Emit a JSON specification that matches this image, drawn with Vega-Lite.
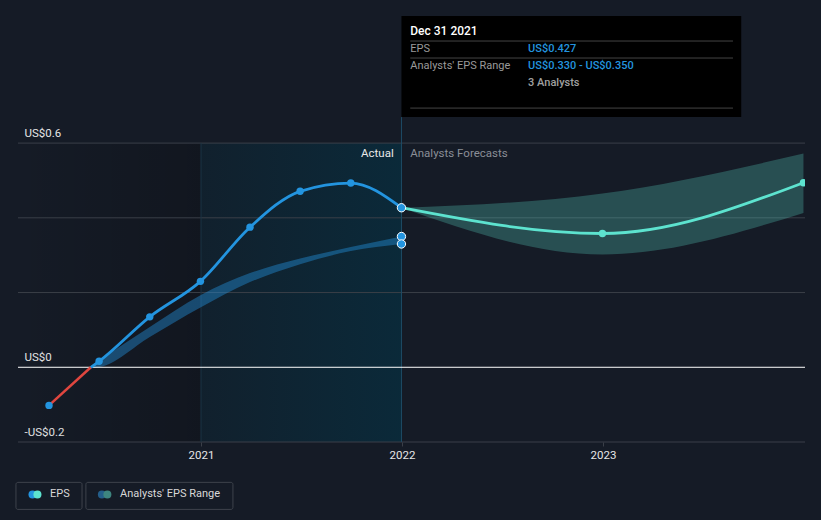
{
  "$schema": "https://vega.github.io/schema/vega-lite/v6.json",
  "width": 787,
  "height": 442,
  "autosize": "none",
  "padding": {"left": 18, "top": 0, "right": 16, "bottom": 78},
  "background": "#151b26",
  "config": {"view": {"stroke": null}, "font": "Roboto"},
  "datasets": {
    "regions": [
      {"date": "2020-02-03T17:00:00Z", "end": "2021-01-01", "v": 0.6, "v2": -0.2, "part": "past"},
      {"date": "2021-01-01", "end": "2021-12-31", "v": 0.6, "v2": -0.2, "part": "actual"}
    ],
    "grid": [
      {"date": "2020-02-03T17:00:00Z", "end": "2024-01-02T19:00:00Z", "v": 0.6, "k": "g"},
      {"date": "2020-02-03T17:00:00Z", "end": "2024-01-02T19:00:00Z", "v": 0.4, "k": "g"},
      {"date": "2020-02-03T17:00:00Z", "end": "2024-01-02T19:00:00Z", "v": 0.2, "k": "g"},
      {"date": "2020-02-03T17:00:00Z", "end": "2024-01-02T19:00:00Z", "v": -0.2, "k": "g"},
      {"date": "2020-02-03T17:00:00Z", "end": "2024-01-02T19:00:00Z", "v": 0, "k": "zero"}
    ],
    "vlines": [
      {"date": "2021-01-01", "v": 0.6, "v2": -0.2, "k": "y2021"},
      {"date": "2021-12-31", "v": 0.6696, "v2": -0.2, "k": "now"}
    ],
    "tipbox": [
      {"date": "2021-12-31", "end": "2023-09-09", "v": 0.9402, "v2": 0.6696}
    ],
    "tiprules": [
      {"date": "2022-01-16", "end": "2023-08-25", "v": 0.8732},
      {"date": "2022-01-16", "end": "2023-08-25", "v": 0.8277},
      {"date": "2022-01-16", "end": "2023-08-25", "v": 0.6937}
    ],
    "tiptext": [
      {"date": "2022-01-16", "v": 0.900, "t": "Dec 31 2021", "k": "title"},
      {"date": "2022-01-16", "v": 0.8518, "t": "EPS", "k": "label"},
      {"date": "2022-08-18", "v": 0.8518, "t": "US$0.427", "k": "value"},
      {"date": "2022-01-16", "v": 0.8063, "t": "Analysts' EPS Range", "k": "label"},
      {"date": "2022-08-18", "v": 0.8063, "t": "US$0.330 - US$0.350", "k": "value"},
      {"date": "2022-08-18", "v": 0.7607, "t": "3 Analysts", "k": "note"}
    ],
    "band_past": [
      {"date": "2020-06-15", "v": -0.002, "v2": 0.003},
      {"date": "2020-06-30", "v": 0.000, "v2": 0.018},
      {"date": "2020-09-30", "v": 0.081, "v2": 0.108},
      {"date": "2020-12-31", "v": 0.160, "v2": 0.193},
      {"date": "2021-03-31", "v": 0.228, "v2": 0.252},
      {"date": "2021-06-30", "v": 0.276, "v2": 0.291},
      {"date": "2021-09-30", "v": 0.311, "v2": 0.322},
      {"date": "2021-12-31", "v": 0.330, "v2": 0.350}
    ],
    "band_fc": [
      {"date": "2021-12-31", "v": 0.427, "v2": 0.427},
      {"date": "2022-12-31", "v": 0.302, "v2": 0.465},
      {"date": "2023-12-31", "v": 0.413, "v2": 0.572}
    ],
    "neg_line": [
      {"date": "2020-03-31", "v": -0.102},
      {"date": "2020-06-15", "v": 0}
    ],
    "eps_line": [
      {"date": "2020-06-15", "v": 0},
      {"date": "2020-06-30", "v": 0.016},
      {"date": "2020-09-30", "v": 0.135},
      {"date": "2020-12-31", "v": 0.230},
      {"date": "2021-03-31", "v": 0.375},
      {"date": "2021-06-30", "v": 0.471},
      {"date": "2021-09-30", "v": 0.493},
      {"date": "2021-12-31", "v": 0.427}
    ],
    "eps_pts": [
      {"date": "2020-03-31", "v": -0.102},
      {"date": "2020-06-30", "v": 0.016},
      {"date": "2020-09-30", "v": 0.135},
      {"date": "2020-12-31", "v": 0.230},
      {"date": "2021-03-31", "v": 0.375},
      {"date": "2021-06-30", "v": 0.471},
      {"date": "2021-09-30", "v": 0.493}
    ],
    "end_pts": [
      {"date": "2021-12-31", "v": 0.427},
      {"date": "2021-12-31", "v": 0.350},
      {"date": "2021-12-31", "v": 0.330}
    ],
    "fc": [
      {"date": "2021-12-31", "v": 0.427},
      {"date": "2022-12-31", "v": 0.358},
      {"date": "2023-12-31", "v": 0.494}
    ],
    "labels": [
      {"date": "2021-12-17", "v": 0.5705, "t": "Actual", "k": "a"},
      {"date": "2022-01-16", "v": 0.5705, "t": "Analysts Forecasts", "k": "f"}
    ],
    "legend_boxes": [
      {"date": "2020-01-31", "end": "2020-05-30", "v": -0.308, "v2": -0.3804},
      {"date": "2020-06-06", "end": "2021-02-28", "v": -0.308, "v2": -0.3804}
    ],
    "legend_dots": [
      {"date": "2020-03-01", "v": -0.3402, "c": "EPS actual"},
      {"date": "2020-03-10", "v": -0.3402, "c": "EPS forecast"},
      {"date": "2020-07-05", "v": -0.3402, "c": "Range actual"},
      {"date": "2020-07-15", "v": -0.3402, "c": "Range forecast"}
    ],
    "legend_text": [
      {"date": "2020-04-02", "v": -0.3402, "t": "EPS"},
      {"date": "2020-08-07", "v": -0.3402, "t": "Analysts' EPS Range"}
    ]
  },
  "encoding": {
    "x": {
      "field": "date", "type": "temporal", "title": null,
      "scale": {"type": "utc", "domain": [
        {"year": 2020, "month": 2, "date": 3, "hours": 17, "utc": true},
        {"year": 2024, "month": 1, "date": 2, "hours": 19, "utc": true}
      ]},
      "axis": {
        "values": [
          {"year": 2021, "month": 1, "date": 1, "utc": true},
          {"year": 2022, "month": 1, "date": 1, "utc": true},
          {"year": 2023, "month": 1, "date": 1, "utc": true}
        ],
        "labelExpr": "utcFormat(datum.value, '%Y')",
        "domain": false, "grid": false,
        "ticks": true, "tickSize": 4, "tickColor": "#3a3f48",
        "labelColor": "#e6e6e6", "labelFontSize": 11.5, "labelFont": "Roboto",
        "labelPadding": 3
      }
    },
    "y": {
      "field": "v", "type": "quantitative", "title": null,
      "scale": {"domain": [-0.2, 0.983], "nice": false, "zero": false},
      "axis": {
        "values": [-0.2, 0, 0.6],
        "labelExpr": "datum.value > 0.5 ? 'US$0.6' : (datum.value < -0.1 ? '-US$0.2' : 'US$0')",
        "domain": false, "ticks": false, "grid": false,
        "labelAlign": "left", "labelBaseline": "bottom",
        "labelPadding": -6, "labelOffset": -5,
        "labelColor": "#e6e6e6", "labelFontSize": 11.5, "labelFont": "Roboto"
      }
    }
  },
  "layer": [
    {
      "data": {"name": "regions"},
      "transform": [{"filter": "datum.part === 'past'"}],
      "mark": {"type": "rect", "fill": {"gradient": "linear", "x1": 0, "y1": 0, "x2": 1, "y2": 0,
        "stops": [{"offset": 0, "color": "rgba(0,0,0,0)"}, {"offset": 1, "color": "rgba(0,0,0,0.18)"}]}},
      "encoding": {"x2": {"field": "end"}, "y2": {"field": "v2"}}
    },
    {
      "data": {"name": "regions"},
      "transform": [{"filter": "datum.part === 'actual'"}],
      "mark": {"type": "rect", "fill": {"gradient": "linear", "x1": 0, "y1": 0, "x2": 1, "y2": 0,
        "stops": [{"offset": 0, "color": "rgba(8,45,62,0.3)"}, {"offset": 1, "color": "rgba(8,45,62,0.8)"}]}},
      "encoding": {"x2": {"field": "end"}, "y2": {"field": "v2"}}
    },
    {
      "data": {"name": "grid"},
      "transform": [{"filter": "datum.k === 'g'"}],
      "mark": {"type": "rule", "color": "#3a3f48", "strokeWidth": 1},
      "encoding": {"x2": {"field": "end"}}
    },
    {
      "data": {"name": "vlines"},
      "transform": [{"filter": "datum.k === 'y2021'"}],
      "mark": {"type": "rule", "color": "#1b3444", "strokeWidth": 1},
      "encoding": {"y2": {"field": "v2"}}
    },
    {
      "data": {"name": "vlines"},
      "transform": [{"filter": "datum.k === 'now'"}],
      "mark": {"type": "rule", "color": "#1d4c66", "strokeWidth": 1},
      "encoding": {"y2": {"field": "v2"}}
    },
    {
      "data": {"name": "tipbox"},
      "mark": {"type": "rect", "fill": "#000000"},
      "encoding": {"x2": {"field": "end"}, "y2": {"field": "v2"}}
    },
    {
      "data": {"name": "tiprules"},
      "mark": {"type": "rule", "color": "#444444", "strokeWidth": 1},
      "encoding": {"x2": {"field": "end"}}
    },
    {
      "data": {"name": "tiptext"},
      "transform": [{"filter": "datum.k === 'title'"}],
      "mark": {"type": "text", "align": "left", "baseline": "middle", "color": "#ffffff", "fontSize": 12, "fontWeight": 500},
      "encoding": {"text": {"field": "t"}}
    },
    {
      "data": {"name": "tiptext"},
      "transform": [{"filter": "datum.k === 'label'"}],
      "mark": {"type": "text", "align": "left", "baseline": "middle", "color": "#9a9a9a", "fontSize": 11},
      "encoding": {"text": {"field": "t"}}
    },
    {
      "data": {"name": "tiptext"},
      "transform": [{"filter": "datum.k === 'value'"}],
      "mark": {"type": "text", "align": "left", "baseline": "middle", "color": "#2394df", "fontSize": 11, "fontWeight": 500},
      "encoding": {"text": {"field": "t"}}
    },
    {
      "data": {"name": "tiptext"},
      "transform": [{"filter": "datum.k === 'note'"}],
      "mark": {"type": "text", "align": "left", "baseline": "middle", "color": "#a0a0a0", "fontSize": 11, "fontWeight": 500},
      "encoding": {"text": {"field": "t"}}
    },
    {
      "data": {"name": "band_past"},
      "mark": {"type": "area", "interpolate": "monotone", "color": "#2394df", "opacity": 0.42},
      "encoding": {"y2": {"field": "v2"}}
    },
    {
      "data": {"name": "band_fc"},
      "mark": {"type": "area", "interpolate": "monotone", "color": "#58d8c6", "opacity": 0.28, "clip": true},
      "encoding": {"y2": {"field": "v2"}}
    },
    {
      "data": {"name": "grid"},
      "transform": [{"filter": "datum.k === 'zero'"}],
      "mark": {"type": "rule", "color": "#ffffff", "strokeWidth": 1},
      "encoding": {"x2": {"field": "end"}}
    },
    {
      "data": {"name": "neg_line"},
      "mark": {"type": "line", "color": "#e0463f", "strokeWidth": 2.5},
      "encoding": {}
    },
    {
      "data": {"name": "eps_line"},
      "mark": {"type": "line", "interpolate": "monotone", "color": "#2394df", "strokeWidth": 2.8},
      "encoding": {}
    },
    {
      "data": {"name": "fc"},
      "mark": {"type": "line", "interpolate": "monotone", "color": "#5de3cf", "strokeWidth": 2.8, "clip": true},
      "encoding": {}
    },
    {
      "data": {"name": "eps_pts"},
      "mark": {"type": "circle", "color": "#2394df", "opacity": 1, "size": 55},
      "encoding": {}
    },
    {
      "data": {"name": "fc"},
      "transform": [{"filter": "year(datum.date) > 2021"}],
      "mark": {"type": "circle", "color": "#5de3cf", "opacity": 1, "size": 55, "clip": true},
      "encoding": {}
    },
    {
      "data": {"name": "end_pts"},
      "mark": {"type": "point", "filled": true, "fill": "#2394df", "stroke": "#ffffff", "strokeWidth": 1, "opacity": 1, "size": 70},
      "encoding": {}
    },
    {
      "data": {"name": "labels"},
      "transform": [{"filter": "datum.k === 'a'"}],
      "mark": {"type": "text", "align": "right", "baseline": "middle", "color": "#e8e8e8", "fontSize": 11.5},
      "encoding": {"text": {"field": "t"}}
    },
    {
      "data": {"name": "labels"},
      "transform": [{"filter": "datum.k === 'f'"}],
      "mark": {"type": "text", "align": "left", "baseline": "middle", "color": "#8a8e96", "fontSize": 11.5},
      "encoding": {"text": {"field": "t"}}
    },
    {
      "data": {"name": "legend_boxes"},
      "mark": {"type": "rect", "fill": null, "stroke": "#3e434c", "strokeWidth": 1, "cornerRadius": 2},
      "encoding": {"x2": {"field": "end"}, "y2": {"field": "v2"}}
    },
    {
      "data": {"name": "legend_dots"},
      "mark": {"type": "circle", "opacity": 1, "size": 64},
      "encoding": {
        "color": {"field": "c", "type": "nominal", "legend": null,
          "scale": {"domain": ["EPS actual", "EPS forecast", "Range actual", "Range forecast"],
                    "range": ["#2394df", "#5de3cf", "#245e8a", "#3e857f"]}}
      }
    },
    {
      "data": {"name": "legend_text"},
      "mark": {"type": "text", "align": "left", "baseline": "middle", "color": "#d8d8d8", "fontSize": 11},
      "encoding": {"text": {"field": "t"}}
    }
  ]
}
